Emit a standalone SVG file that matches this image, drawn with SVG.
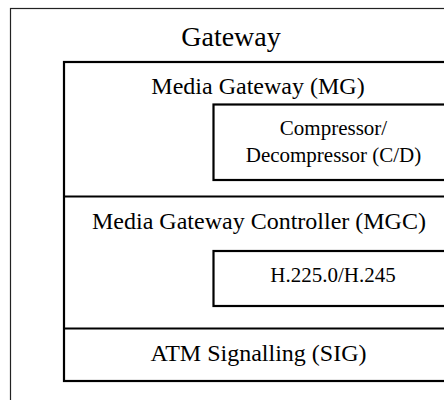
<svg xmlns="http://www.w3.org/2000/svg" width="444" height="400" viewBox="0 0 444 400">
  <style>
    .outer { fill: none; stroke: #222; stroke-width: 1.2; }
    .box { fill: none; stroke: #000; stroke-width: 2.2; }
    .div { stroke: #000; stroke-width: 2.2; }
    text { font-family: "Liberation Serif", "Times New Roman", serif; fill: #000; text-anchor: middle; }
    .t28 { font-size: 28px; }
    .t24 { font-size: 24px; }
    .t21 { font-size: 21px; }
  </style>
  <rect width="444" height="400" fill="#fff"/>

  <!-- outer gateway frame, open past the right and bottom edges -->
  <g id="gateway">
    <rect class="outer" x="10.5" y="8.5" width="450" height="420"/>
    <text class="t28" x="231" y="46">Gateway</text>
  </g>

  <!-- stacked layers of the gateway -->
  <g id="layers">
    <rect class="box" x="64" y="62" width="390" height="319"/>
    <line class="div" x1="64" y1="196.5" x2="454" y2="196.5"/>
    <line class="div" x1="64" y1="328.5" x2="454" y2="328.5"/>
  </g>

  <g id="mg">
    <text class="t24" x="258" y="94">Media Gateway (MG)</text>
  </g>

  <g id="cd">
    <rect class="box" x="213.5" y="104.5" width="240" height="75.5"/>
    <text class="t21" x="333.5" y="135">Compressor/</text>
    <text class="t21" x="333.5" y="162">Decompressor (C/D)</text>
  </g>

  <g id="mgc">
    <text class="t24" x="259" y="229">Media Gateway Controller (MGC)</text>
  </g>

  <g id="h225">
    <rect class="box" x="213.5" y="251" width="240" height="55"/>
    <text class="t21" x="333" y="282">H.225.0/H.245</text>
  </g>

  <g id="sig">
    <text class="t24" x="258.5" y="361">ATM Signalling (SIG)</text>
  </g>

  <g id="connectors"/>
</svg>
